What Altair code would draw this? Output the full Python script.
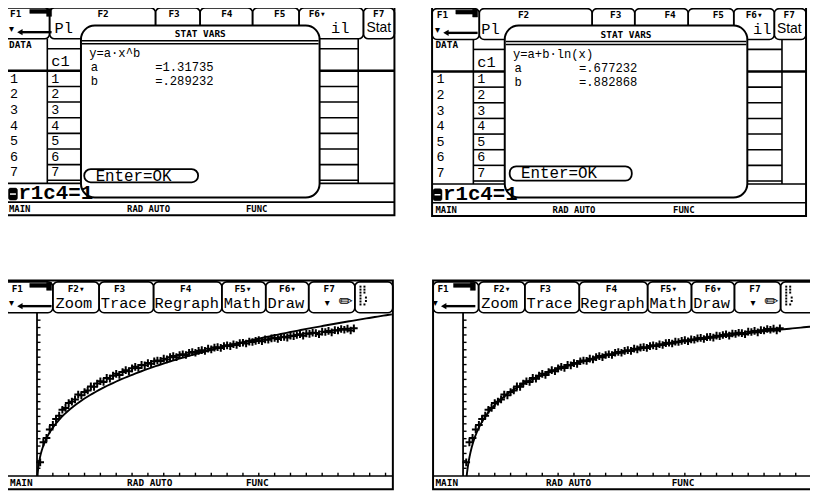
import altair as alt
import pandas as pd
import numpy as np

# ------------------------------------------------------------------ data
# list c1 (x) and the y list
x_vals = list(range(1, 101))
y_vals = [1.16, 1.70, 1.82, 2.05, 2.17, 2.33, 2.42, 2.58, 2.63, 2.76,
          2.80, 2.86, 2.99, 2.97, 3.06, 3.10, 3.21, 3.20, 3.29, 3.35,
          3.33, 3.44, 3.42, 3.50, 3.55, 3.52, 3.60, 3.65, 3.62, 3.70,
          3.74, 3.71, 3.79, 3.78, 3.84, 3.82, 3.89, 3.91, 3.90, 3.96,
          3.94, 4.00, 4.03, 4.00, 4.06, 4.08, 4.06, 4.12, 4.14, 4.12,
          4.17, 4.19, 4.17, 4.23, 4.21, 4.26, 4.27, 4.25, 4.30, 4.32,
          4.30, 4.35, 4.33, 4.38, 4.39, 4.37, 4.42, 4.41, 4.44, 4.46,
          4.43, 4.48, 4.47, 4.51, 4.52, 4.49, 4.54, 4.55, 4.53, 4.58,
          4.57, 4.60, 4.62, 4.58, 4.64, 4.63, 4.66, 4.65, 4.62, 4.69,
          4.68, 4.71, 4.67, 4.73, 4.72, 4.76, 4.74, 4.77, 4.72, 4.78]

# regression results shown in the STAT VARS dialogs
power_a, power_b = 1.31735, 0.289232
log_a, log_b = 0.677232, 0.882868
tl_dialog = ["y=a·x^b", "a", "=1.31735", "b", "=.289232"]
tr_dialog = ["y=a+b·ln(x)", "a", "=.677232", "b", "=.882868"]

# graph window
x_window = [0, 112]
y_window = [0.79, 5.19]
x_scl, y_scl = 5, 0.2

# toolbar / editor labels
data_tabs_small = ["F1", "F2", "F3", "F4", "F5", "F6▾", "F7"]
data_tabs_big = ["Pl", "il"]
graph_tabs_small = ["F1", "F2▾", "F3", "F4", "F5▾", "F6▾", "F7"]
graph_tabs_big = ["Zoom", "Trace", "Regraph", "Math", "Draw"]
row_labels = ["1", "2", "3", "4", "5", "6", "7"]
c1_values = ["1", "2", "3", "4", "5", "6", "7"]
status_words = ["MAIN", "RAD AUTO", "FUNC"]

# ------------------------------------------------------------------ helpers
W, H = 810, 485
PX = alt.Scale(domain=[8, 818], range=[0, W])
PY = alt.Scale(domain=[8, 493], range=[0, H])
MONO = "Liberation Mono"
SMALL = "DejaVu Sans Mono"
layers = []


def segs(rows, sw=1.6, color="black"):
    df = pd.DataFrame(rows, columns=["x", "y", "x2", "y2"])
    layers.append(alt.Chart(df).mark_rule(strokeWidth=sw, color=color).encode(
        x=alt.X("x:Q", scale=PX, axis=None), x2="x2:Q",
        y=alt.Y("y:Q", scale=PY, axis=None), y2="y2:Q"))


def rects(rows, r=0, fill="transparent", sw=1.6, stroke="black"):
    df = pd.DataFrame(rows, columns=["x", "y", "x2", "y2"])
    layers.append(alt.Chart(df).mark_rect(
        cornerRadius=r, fill=fill, stroke=stroke, strokeWidth=sw).encode(
        x=alt.X("x:Q", scale=PX, axis=None), x2="x2:Q",
        y=alt.Y("y:Q", scale=PY, axis=None), y2="y2:Q"))


def texts(rows, size, font=MONO, weight="normal", align="left"):
    df = pd.DataFrame(rows, columns=["x", "y", "t"])
    layers.append(alt.Chart(df).mark_text(
        align=align, baseline="middle", font=font, fontSize=size,
        fontWeight=weight, color="black").encode(
        x=alt.X("x:Q", scale=PX, axis=None),
        y=alt.Y("y:Q", scale=PY, axis=None), text="t:N"))


def dots(rows, size=5, shape="square"):
    df = pd.DataFrame(rows, columns=["x", "y"])
    layers.append(alt.Chart(df).mark_point(
        shape=shape, size=size, filled=True, color="black", opacity=1).encode(
        x=alt.X("x:Q", scale=PX, axis=None), y=alt.Y("y:Q", scale=PY, axis=None)))


def f1_icon(ox, oy):
    # little tool icon of the F1 tab
    rects([(ox + 24, oy + 3, ox + 44, oy + 7), (ox + 41, oy + 2, ox + 46, oy + 10)],
          fill="black", sw=0.5)
    segs([(ox + 15, oy + 26, ox + 46, oy + 26)], sw=2.4)
    dots([(ox + 14, oy + 26)], size=40, shape="triangle-left")
    texts([(ox + 3, oy + 23, "▾")], 10, font="DejaVu Sans")


# ------------------------------------------------------------------ data editor screens
def data_screen(ox, oy, right, tab_edges, small_x, big_x, stat_x, col1, right_col,
                dlg, left_txt):
    rects([(ox, oy, right, oy + 211)], sw=2)
    rects([(a, oy + 1.5, b, oy + 32.7) for a, b in zip(tab_edges[:-1], tab_edges[1:])], r=5)
    texts([(x, oy + 7.5, t) for x, t in zip(small_x, data_tabs_small)], 9.5, SMALL, "bold")
    texts([(x, oy + 22, t) for x, t in zip(big_x, data_tabs_big)], 15.5)
    texts([(stat_x, oy + 22, "Stat")], 14, "Liberation Sans")
    f1_icon(max(ox, 6), oy)
    # table
    texts([(left_txt, oy + 38.7, "DATA")], 9.5, SMALL, "bold")
    segs([(col1, oy + 32.7, col1, oy + 178.7),
          (right_col, oy + 32.7, right_col, oy + 178.7)])
    segs([(col1, oy + 42.7, dlg[0], oy + 42.7),
          (dlg[2], oy + 42.7, right_col, oy + 42.7)])
    segs([(ox, oy + 65, right, oy + 65)], sw=2.4)
    rows_y = [oy + 72.9 + 15.8 * k for k in range(7)]
    segs([(col1, y + 7.9, dlg[0], y + 7.9) for y in rows_y] +
         [(dlg[2], y + 7.9, right_col, y + 7.9) for y in rows_y])
    segs([(ox, oy + 178.7, right, oy + 178.7)])
    texts([(col1 + 4, oy + 55.5, "c1")], 15.5)
    texts([(left_txt + 1, y, t) for y, t in zip(rows_y, row_labels)] +
          [(col1 + 4, y, t) for y, t in zip(rows_y, c1_values)], 13.5)
    # dialog
    rects([dlg], r=14, fill="white", sw=2)
    texts([((dlg[0] + dlg[2]) / 2, oy + 28, "STAT VARS")], 9.5, SMALL, "bold", "center")
    segs([(dlg[0] + 1, oy + 34.7, dlg[2] - 1, oy + 34.7),
          (dlg[0] + 1, oy + 37.7, dlg[2] - 1, oy + 37.7)], sw=1.4)


def dialog_text(lx, vx, oy, t):
    y1, y2, y3 = oy + 47.4, oy + 61.5, oy + 75.6
    texts([(lx, y1, t[0]), (lx + 1.5, y2, t[1]), (vx, y2, t[2]),
           (lx + 1.5, y3, t[3]), (vx, y3, t[4])], 12.3)


def entry_status(ox, oy, right, status_x):
    ix = max(ox + 1, 8.5)
    rects([(ix, oy + 183.5, ix + 9, oy + 195.5)], r=2, fill="black", sw=0.5)
    segs([(ix + 1.5, oy + 189.5, ix + 7.5, oy + 189.5)], sw=1.5, color="white")
    texts([(ix + 10, oy + 188.3, "r1c4=1")], 21, MONO, "bold")
    segs([(ox, oy + 197.6, right, oy + 197.6)])
    texts([(x, oy + 205, t) for x, t in zip(status_x, status_words)], 9, SMALL, "bold")


def pill_box(pill, t):
    rects([pill], r=6.5, fill="white", sw=1.8)
    texts([(pill[0] + 11.5, (pill[1] + pill[3]) / 2, t)], 16)


# top-left: power regression
data_screen(2, 4, 398.3, [2, 50, 157, 202, 255, 302, 367, 398.3],
            [10, 98.3, 170, 223.3, 276.7, 311.7, 376.7],
            [55, 334.2], 370, 47.7, 361.7,
            (81.7, 23.3, 322.7, 197), 9)
dialog_text(90, 156.7, 4, tl_dialog)
pill_box((85, 168.3, 200, 181.7), "Enter=OK")
entry_status(2, 4, 398.3, [9, 128.3, 248.3])

# top-right: logarithmic regression
data_screen(436.3, 4.7, 814, [436.3, 484, 598, 641, 695, 741, 782, 814],
            [441, 523, 616, 671, 719.7, 753, 791.3],
            [486, 760.5], 784.7, 478, 789.7,
            (509.7, 23.3, 754.7, 197), 439.7)
dialog_text(518, 584.7, 4.7, tr_dialog)
pill_box((514.7, 165.5, 638, 180), "Enter=OK")
entry_status(436.3, 4.7, 814, [439.7, 558, 679.7])


# ------------------------------------------------------------------ graph screens
def graph_screen(dx, left, right, axis_px, curve_a, curve_b, kind, status_x):
    oy = 280.7
    rects([(left, oy, right, 491.7)], sw=2)
    edges = [e + dx for e in [4, 53.3, 100, 155, 224, 268.3, 311.7, 358.3, 396.7]]
    edges[0] = left
    rects([(a, oy + 1.5, b, 313.3) for a, b in zip(edges[:-1], edges[1:])], r=5)
    texts([(x + dx, 289.3, t) for x, t in zip([11.7, 68.3, 115, 181.7, 236.7, 281.7, 326.7],
                                               graph_tabs_small)], 9.5, SMALL, "bold")
    texts([(x + dx, 303.3, t) for x, t in zip([56, 101.7, 156, 226, 270], graph_tabs_big)], 15.5)
    texts([(328 + dx, 303.5, "▾")], 10, "DejaVu Sans")
    texts([(342 + dx, 302.5, "✏")], 17, "DejaVu Sans")
    dots([(364 + dx, y) for y in [287, 290, 293, 296, 299, 302, 305]] +
         [(368 + dx, y) for y in [287, 290, 293]] +
         [(369.5 + dx, y) for y in [298, 301.5]] + [(368 + dx, 305)], size=4)
    f1_icon(max(4 + dx, 6), 280.7)
    segs([(left, 478.3, right, 478.3)])
    texts([(x, 485, t) for x, t in zip(status_x, status_words)], 9.5, SMALL, "bold")

    gx = alt.Scale(domain=x_window, range=[axis_px - 8, axis_px - 8 + x_window[1] * 3.2])
    gy = alt.Scale(domain=y_window, range=[470.3, 470.3 - (y_window[1] - y_window[0]) * 37.4])

    # axes of the graph
    ax = pd.DataFrame({"x": [0], "x2": [0], "y": [y_window[0]], "y2": [y_window[1]]})
    layers.append(alt.Chart(ax).mark_rule(strokeWidth=1.8, color="black").encode(
        x=alt.X("x:Q", scale=gx, axis=None), x2="x2:Q",
        y=alt.Y("y:Q", scale=gy, axis=None), y2="y2:Q"))
    yt = np.round(np.arange(1.0, 5.01, y_scl), 2)
    ytd = pd.DataFrame({"x": 0.0, "x2": 1.1, "y": yt})
    layers.append(alt.Chart(ytd).mark_rule(strokeWidth=1.4, color="black").encode(
        x=alt.X("x:Q", scale=gx, axis=None), x2="x2:Q",
        y=alt.Y("y:Q", scale=gy, axis=None)))
    xt = np.arange(x_scl, 111, x_scl)
    xtd = pd.DataFrame({"x": xt, "y": y_window[0], "y2": y_window[0] + 0.09})
    layers.append(alt.Chart(xtd).mark_rule(strokeWidth=1.4, color="black").encode(
        x=alt.X("x:Q", scale=gx, axis=None),
        y=alt.Y("y:Q", scale=gy, axis=None), y2="y2:Q"))

    # regression curve y = a*x^b  or  y = a + b*ln(x)
    if kind == "power":
        x0 = (y_window[0] / curve_a) ** (1 / curve_b)
        xs = np.concatenate([np.geomspace(x0, 5, 80), np.linspace(5.1, x_window[1], 120)])
        ys = curve_a * xs ** curve_b
    else:
        x0 = np.exp((y_window[0] - curve_a) / curve_b)
        xs = np.concatenate([np.geomspace(x0, 5, 80), np.linspace(5.1, x_window[1], 120)])
        ys = curve_a + curve_b * np.log(xs)
    cd = pd.DataFrame({"x": xs, "y": ys})
    layers.append(alt.Chart(cd).mark_line(strokeWidth=1.9, color="black").encode(
        x=alt.X("x:Q", scale=gx, axis=None), y=alt.Y("y:Q", scale=gy, axis=None)))

    # scatter plot of the data
    sd = pd.DataFrame({"x": x_vals, "y": y_vals})
    layers.append(alt.Chart(sd).mark_point(
        shape="M-1,0L1,0M0,-1L0,1", size=60, strokeWidth=2, color="black",
        filled=False, opacity=1).encode(
        x=alt.X("x:Q", scale=gx, axis=None), y=alt.Y("y:Q", scale=gy, axis=None)))


graph_screen(0, 4, 396.7, 37.3, power_a, power_b, "power", [10, 128.3, 248.3])
graph_screen(430, 437.3, 830, 467.6, log_a, log_b, "log", [439.7, 551.3, 678.3])

chart = alt.layer(*layers).resolve_scale(x="independent", y="independent").properties(
    width=W, height=H, autosize=alt.AutoSizeParams(type="none"), padding=0,
    background="white"
).configure_view(strokeWidth=0)

chart.save("out.html", embed_options={"renderer": "svg", "actions": False})
